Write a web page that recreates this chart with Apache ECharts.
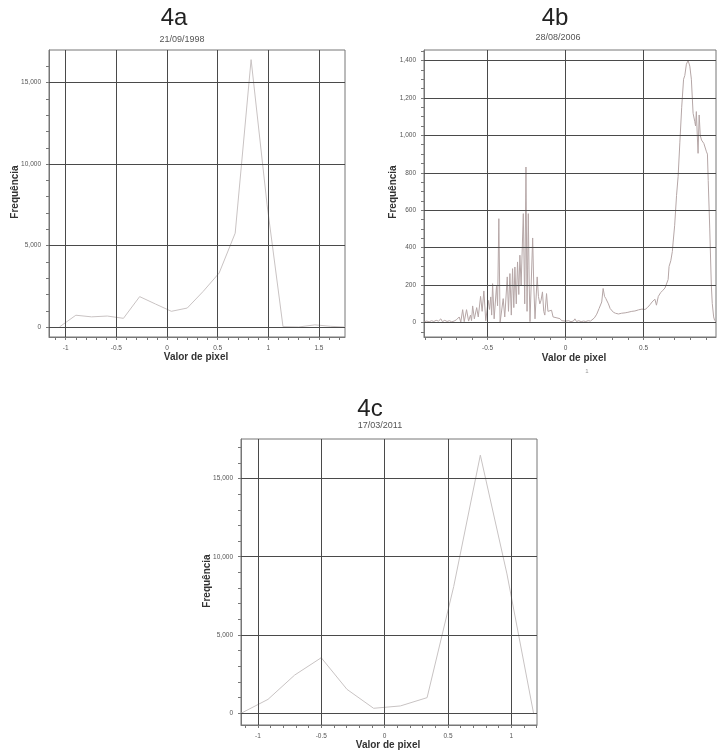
<!DOCTYPE html>
<html><head><meta charset="utf-8">
<script src="https://cdn.jsdelivr.net/npm/echarts@6/dist/echarts.min.js"></script>
<style>html,body{margin:0;padding:0;background:#fff;}#c{width:717px;height:753px;}</style>
</head><body><div id="c"></div>
<script>
// ---- 4a : 21/09/1998 ----
const A_X = [-1.06,-0.90,-0.745,-0.59,-0.43,-0.27,-0.115,0.043,0.2,0.357,0.515,0.673,0.83,0.988,1.145,1.30,1.46,1.617,1.775];
const A_Y = [30,740,640,690,550,1880,1430,980,1180,2200,3330,5770,16400,7500,40,20,150,60,10];
const A_XLABELS = [-1,-0.5,0,0.5,1,1.5];
const A_YLABELS = [0,5000,10000,15000];

// ---- 4b : 28/08/2006 ----
const B_X = [-0.905,-0.89,-0.875,-0.86,-0.845,-0.83,-0.815,-0.80,-0.79,-0.775,-0.76,-0.745,-0.73,-0.715,-0.70,
 -0.69,-0.682,-0.672,-0.66,-0.65,-0.635,-0.622,-0.61,-0.603,-0.596,-0.585,-0.57,-0.56,-0.545,-0.535,-0.524,-0.512,-0.496,-0.488,-0.48,-0.474,-0.468,-0.458,-0.443,-0.436,-0.428,-0.42,-0.412,-0.40,-0.39,-0.374,-0.366,-0.357,-0.348,-0.34,-0.332,-0.325,-0.316,-0.308,-0.30,-0.293,-0.285,-0.271,-0.262,-0.254,-0.247,-0.239,-0.233,-0.228,-0.211,-0.204,-0.196,-0.182,-0.174,-0.165,-0.157,-0.148,-0.14,-0.133,-0.122,-0.113,-0.105,-0.09,-0.08,-0.068,-0.055,-0.045,-0.036,-0.025,-0.015,0.0,0.007,
 0.02,0.035,0.05,0.06,0.07,0.085,0.10,0.115,0.13,0.145,0.16,0.17,0.185,0.20,0.215,0.232,0.241,0.25,0.258,0.265,0.275,0.286,0.295,0.307,0.32,0.339,0.36,0.382,0.40,0.425,0.445,0.468,0.49,0.51,0.525,0.541,0.555,0.565,0.573,0.583,0.595,0.61,0.625,0.638,0.65,0.658,0.664,0.675,0.685,0.69,0.70,0.712,0.722,0.733,0.745,0.757,0.765,0.775,0.786,0.797,0.807,0.818,0.829,0.834,0.839,0.845,0.85,0.857,0.864,0.872,0.887,0.897,0.904,0.91,0.915,0.925,0.935,0.941,0.95,0.956,0.965];
const B_Y = [5,8,4,10,6,12,8,20,5,12,6,10,4,8,15,
 5,30,3,69,5,69,8,40,10,89,20,80,30,140,60,169,10,119,70,137,40,208,20,194,90,555,0,5,128,30,244,60,262,40,288,80,297,100,324,150,360,200,582,100,831,60,582,200,5,452,200,20,244,140,100,120,164,60,40,155,60,57,66,30,30,25,15,21,10,12,8,16,
 10,5,8,20,6,10,5,8,6,10,8,12,25,45,75,110,182,140,129,130,100,75,80,55,50,46,50,52,55,60,62,68,72,70,80,95,110,105,125,93,140,160,173,185,195,230,300,330,380,430,520,680,780,960,1150,1300,1320,1380,1400,1370,1300,1118,1073,1050,1127,1000,904,1109,1000,975,957,950,912,900,760,500,200,102,30,12,5];
const B_XLABELS = [-0.5,0,0.5];
const B_YLABELS = [0,200,400,600,800,1000,1200,1400];

// ---- 4c : 17/03/2011 ----
const C_X = [-1.133,-0.92,-0.71,-0.5,-0.297,-0.087,0.124,0.335,0.545,0.755,0.965,1.175];
const C_Y = [0,890,2440,3550,1530,320,470,1000,8100,16490,8900,0];
const C_XLABELS = [-1,-0.5,0,0.5,1];
const C_YLABELS = [0,5000,10000,15000];

function range(a, b, s) { const r = []; for (let v = a; v <= b + s / 2; v += s) r.push(Math.round(v * 1000) / 1000); return r; }

const FONT = '"Liberation Sans", Arial, sans-serif';
const panels = [
  { left: 49, top: 50, width: 296, height: 287, xmin: -1.165, xmax: 1.757, ymin: -594, ymax: 16990,
    xs: A_X, ys: A_Y, xl: A_XLABELS, yl: A_YLABELS, xt: range(-1.1, 1.7, 0.1), yt: range(0, 16000, 1000), color: '#c9c3c3' },
  { left: 424, top: 50, width: 292, height: 287, xmin: -0.908, xmax: 0.965, ymin: -77, ymax: 1456,
    xs: B_X, ys: B_Y, xl: B_XLABELS, yl: B_YLABELS, xt: range(-0.9, 0.9, 0.1), yt: range(-50, 1450, 50), color: '#b5a6a6' },
  { left: 241, top: 439, width: 296, height: 286, xmin: -1.133, xmax: 1.202, ymin: -747, ymax: 17520,
    xs: C_X, ys: C_Y, xl: C_XLABELS, yl: C_YLABELS, xt: range(-1.1, 1.2, 0.1), yt: range(0, 17000, 1000), color: '#c8c3c3' }
];

const option = { animation: false, grid: [], xAxis: [], yAxis: [], series: [], graphic: [] };
panels.forEach((p, i) => {
  option.grid.push({ left: p.left, top: p.top, width: p.width, height: p.height, containLabel: false,
    show: true, borderColor: '#777', borderWidth: 1, backgroundColor: 'transparent' });
  option.xAxis.push({ type: 'value', gridIndex: i, min: p.xmin, max: p.xmax,
    axisLine: { show: true, onZero: false, lineStyle: { color: '#777', width: 1 } },
    axisTick: { show: true, inside: false, length: 3, customValues: p.xt, lineStyle: { color: '#777' } },
    axisLabel: { customValues: p.xl, fontSize: 6.5, color: '#555', margin: 8, fontFamily: FONT,
      formatter: v => String(v) },
    splitLine: { show: false } });
  option.yAxis.push({ type: 'value', gridIndex: i, min: p.ymin, max: p.ymax,
    axisLine: { show: true, onZero: false, lineStyle: { color: '#777', width: 1 } },
    axisTick: { show: true, inside: false, length: 3, customValues: p.yt, lineStyle: { color: '#777' } },
    axisLabel: { customValues: p.yl, fontSize: 6.5, color: '#555', margin: 8, fontFamily: FONT,
      formatter: v => v.toLocaleString('en-US') },
    splitLine: { show: false } });
  option.series.push({ type: 'line', xAxisIndex: i, yAxisIndex: i, symbol: 'none', showSymbol: false,
    data: p.xs.map((x, k) => [x, p.ys[k]]), lineStyle: { color: p.color, width: 1 }, z: 3,
    silent: true,
    markLine: { silent: true, symbol: ['none', 'none'], label: { show: false }, animation: false,
      lineStyle: { color: '#4a4a4a', width: 1, type: 'solid' },
      emphasis: { disabled: true },
      data: p.xl.map(v => ({ xAxis: v })).concat(p.yl.map(v => ({ yAxis: v }))) } });
});

function txt(text, x, y, font, fill, rot) {
  return { type: 'text', x: x, y: y, rotation: rot || 0, silent: true,
    style: { text: text, font: font, fill: fill, textAlign: 'center', textVerticalAlign: 'middle' } };
}
option.graphic = [
  txt('4a', 174, 18.5, '24px ' + FONT, '#222'),
  txt('21/09/1998', 182, 39.5, '9px ' + FONT, '#555'),
  txt('Valor de pixel', 196, 357.5, 'bold 10px ' + FONT, '#333'),
  txt('Frequência', 15, 192, 'bold 10px ' + FONT, '#333', Math.PI / 2),
  txt('4b', 555, 18, '24px ' + FONT, '#222'),
  txt('28/08/2006', 558, 38, '9px ' + FONT, '#555'),
  txt('Valor de pixel', 574, 358, 'bold 10px ' + FONT, '#333'),
  txt('Frequência', 393, 192, 'bold 10px ' + FONT, '#333', Math.PI / 2),
  txt('1', 587, 371, '6px ' + FONT, '#999'),
  txt('4c', 370, 409.5, '24px ' + FONT, '#222'),
  txt('17/03/2011', 380, 425.5, '9px ' + FONT, '#555'),
  txt('Valor de pixel', 388, 745, 'bold 10px ' + FONT, '#333'),
  txt('Frequência', 207, 581, 'bold 10px ' + FONT, '#333', Math.PI / 2)
];

const chart = echarts.init(document.getElementById('c'), null, { renderer: 'canvas' });
chart.setOption(option);
</script></body></html>
